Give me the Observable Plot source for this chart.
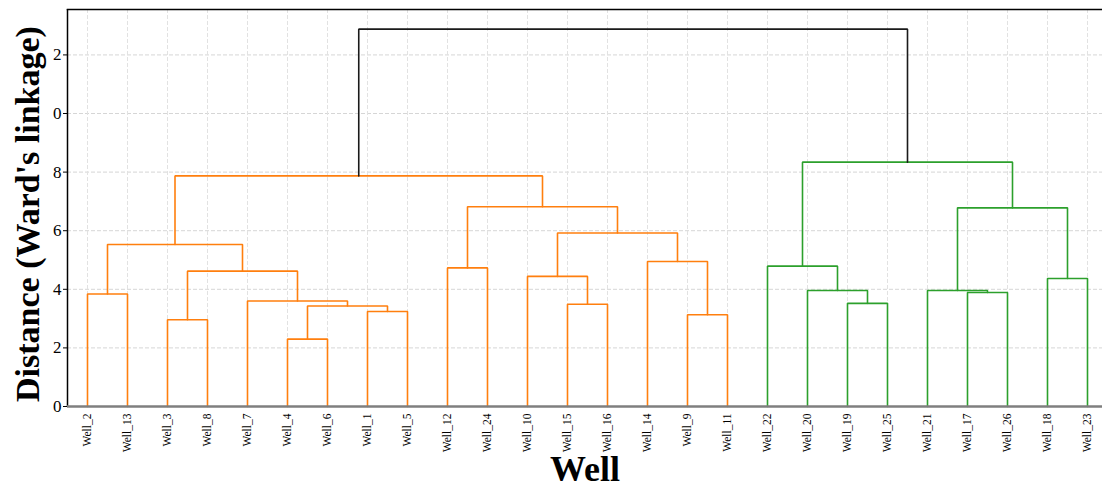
<!DOCTYPE html>
<html>
<head>
<meta charset="utf-8">
<script src="https://cdn.jsdelivr.net/npm/d3@7"></script>
<script src="https://cdn.jsdelivr.net/npm/@observablehq/plot@0.6"></script>
<style>
  html, body { margin: 0; padding: 0; background: #fff; }
  #chart svg { display: block; }
</style>
</head>
<body>
<div id="chart"></div>
<script>
// Leaf order (left to right)
const leaves = ["Well_2","Well_13","Well_3","Well_8","Well_7","Well_4","Well_6","Well_1","Well_5",
  "Well_12","Well_24","Well_10","Well_15","Well_16","Well_14","Well_9","Well_11",
  "Well_22","Well_20","Well_19","Well_25","Well_21","Well_17","Well_26","Well_18","Well_23"];

// Merges: [left child, right child, height, cluster]; children "mN" refer to earlier merges
const merges = [
  ["Well_2","Well_13",3.84,"A"],   // m0
  ["Well_3","Well_8",2.96,"A"],    // m1
  ["Well_4","Well_6",2.30,"A"],    // m2
  ["Well_1","Well_5",3.24,"A"],    // m3
  ["m2","m3",3.43,"A"],            // m4
  ["Well_7","m4",3.60,"A"],        // m5
  ["m1","m5",4.62,"A"],            // m6
  ["m0","m6",5.53,"A"],            // m7
  ["Well_12","Well_24",4.73,"A"],  // m8
  ["Well_15","Well_16",3.49,"A"],  // m9
  ["Well_10","m9",4.44,"A"],       // m10
  ["Well_9","Well_11",3.13,"A"],   // m11
  ["Well_14","m11",4.95,"A"],      // m12
  ["m10","m12",5.92,"A"],          // m13
  ["m8","m13",6.82,"A"],           // m14
  ["m7","m14",7.87,"A"],           // m15
  ["Well_19","Well_25",3.52,"B"],  // m16
  ["Well_20","m16",3.96,"B"],      // m17
  ["Well_22","m17",4.79,"B"],      // m18
  ["Well_17","Well_26",3.89,"B"],  // m19
  ["Well_21","m19",3.96,"B"],      // m20
  ["Well_18","Well_23",4.37,"B"],  // m21
  ["m20","m21",6.78,"B"],          // m22
  ["m18","m22",8.34,"B"],          // m23
  ["m15","m23",12.88,"root"]       // m24
];

const clusterNames = ["A","B","root"];
const clusterColors = ["#ff7f0e","#2ca02c","#1a1a1a"];

const yTicks = [0,2,4,6,8,10,12];
const yTickLabels = ["0","2","4","6","8","0","2"];

const yTitle = "Distance (Ward's linkage)";
const xTitle = "Well";

// Build dendrogram paths (scipy-style leaf positions 5, 15, 25, ...)
const leafPos = leaves.map((_, i) => i * 10 + 5);
const nodeX = new Map(), nodeH = new Map();
leaves.forEach((n, i) => { nodeX.set(n, leafPos[i]); nodeH.set(n, 0); });
const pts = [];
merges.forEach(([a, b, h, c], i) => {
  const id = "m" + i;
  const xa = nodeX.get(a), xb = nodeX.get(b);
  nodeX.set(id, (xa + xb) / 2);
  nodeH.set(id, h);
  pts.push({x: xa, y: nodeH.get(a), id, c},
           {x: xa, y: h, id, c},
           {x: xb, y: h, id, c},
           {x: xb, y: nodeH.get(b), id, c});
});

const serif = "'Liberation Serif', 'Times New Roman', serif";

const chart = Plot.plot({
  width: 1102,
  height: 487,
  marginLeft: 67,
  marginRight: 0,
  marginTop: 9,
  marginBottom: 81,
  style: {fontFamily: serif, background: "#fff", overflow: "visible"},
  x: {domain: [0, 258.75]},
  y: {domain: [0, 13.55]},
  color: {type: "ordinal", domain: clusterNames, range: clusterColors},
  marks: [
    Plot.gridY(yTicks, {stroke: "#d6d6d6", strokeOpacity: 1, strokeDasharray: "4,2"}),
    Plot.gridX(leafPos, {stroke: "#e2e2e2", strokeOpacity: 1, strokeDasharray: "4,2"}),
    Plot.axisY({ticks: yTicks, tickFormat: (d, i) => yTickLabels[i], tickSize: 4, tickPadding: 2,
      fontSize: 17, label: null, stroke: "#000"}),
    Plot.axisX({ticks: leafPos, tickFormat: (d, i) => leaves[i], tickRotate: -90, tickSize: 0,
      tickPadding: 7, fontSize: 11.5, label: null}),
    Plot.line(pts, {x: "x", y: "y", z: "id", stroke: "c", strokeWidth: 1.6, strokeLinejoin: "miter"}),
    Plot.frame({anchor: "top", stroke: "#000", strokeWidth: 1.5}),
    Plot.ruleX([0], {stroke: "#000", strokeWidth: 1.5}),
    Plot.ruleY([0], {stroke: "#7f7f7f", strokeWidth: 2.5}),
    Plot.text([yTitle], {frameAnchor: "left", textAnchor: "middle", dx: -39, dy: 6, rotate: -90,
      fontSize: 34, fontWeight: "bold", fill: "#000", fontFamily: serif}),
    Plot.text([xTitle], {frameAnchor: "bottom", dy: 74, fontSize: 36, fontWeight: "bold",
      fill: "#000", fontFamily: serif})
  ]
});
document.getElementById("chart").appendChild(chart);
</script>
</body>
</html>
